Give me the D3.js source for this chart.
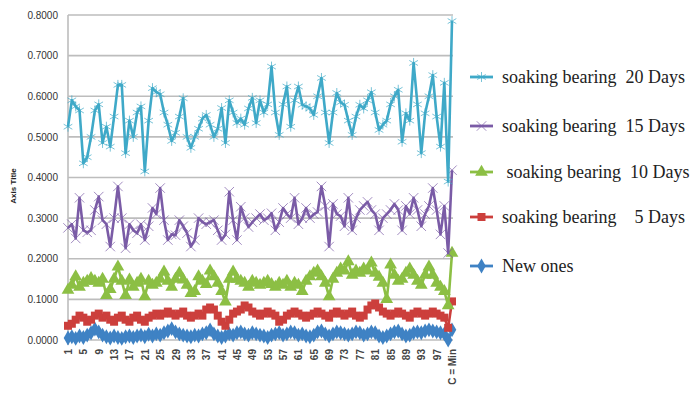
<!DOCTYPE html>
<html><head><meta charset="utf-8">
<script src="https://cdn.jsdelivr.net/npm/d3@7"></script>
<style>body{margin:0;background:#fff}svg{display:block}</style>
</head><body><svg id="c" width="691" height="398"></svg>
<script>
const categories = d3.range(1, 101).map(String).concat(["C = Min"]);
const seriesNames = ["soaking bearing  20 Days", "soaking bearing  15 Days", " soaking bearing  10 Days", "soaking bearing    5 Days", "New ones"];
const yTicks = [0, 0.1, 0.2, 0.3, 0.4, 0.5, 0.6, 0.7, 0.8];
const yTitle = "Axis Title";

const days20 = [0.525,0.59,0.575,0.565,0.435,0.45,0.5,0.565,0.58,0.485,0.525,0.476,0.55,0.628,0.628,0.46,0.54,0.50,0.56,0.575,
0.415,0.54,0.62,0.61,0.605,0.56,0.53,0.49,0.51,0.55,0.595,0.50,0.473,0.50,0.52,0.545,0.554,0.53,0.50,0.52,
0.571,0.485,0.59,0.56,0.534,0.545,0.53,0.57,0.596,0.534,0.59,0.56,0.58,0.673,0.56,0.505,0.58,0.624,0.525,0.59,
0.624,0.579,0.575,0.57,0.554,0.60,0.645,0.56,0.485,0.56,0.608,0.585,0.579,0.54,0.505,0.55,0.579,0.57,0.59,0.61,
0.56,0.517,0.53,0.54,0.58,0.60,0.616,0.488,0.558,0.54,0.682,0.58,0.46,0.558,0.60,0.652,0.55,0.476,0.633,0.39,0.785];
const days15 = [0.276,0.285,0.25,0.35,0.27,0.265,0.27,0.32,0.353,0.295,0.285,0.23,0.30,0.378,0.30,0.226,0.285,0.27,0.263,0.285,
0.246,0.28,0.325,0.31,0.374,0.295,0.246,0.26,0.258,0.295,0.28,0.263,0.23,0.246,0.30,0.29,0.285,0.29,0.295,0.27,
0.246,0.26,0.365,0.295,0.246,0.328,0.30,0.278,0.29,0.30,0.31,0.295,0.30,0.312,0.27,0.29,0.325,0.31,0.30,0.35,
0.285,0.30,0.325,0.30,0.31,0.315,0.378,0.33,0.23,0.335,0.31,0.305,0.28,0.35,0.27,0.30,0.32,0.33,0.34,0.32,
0.31,0.27,0.30,0.31,0.32,0.335,0.32,0.27,0.33,0.31,0.35,0.32,0.28,0.31,0.33,0.374,0.32,0.26,0.33,0.214,0.418];
const days10 = [0.123,0.135,0.156,0.13,0.14,0.145,0.152,0.145,0.14,0.15,0.11,0.125,0.15,0.18,0.145,0.11,0.148,0.13,0.14,0.15,
0.107,0.145,0.135,0.14,0.15,0.168,0.145,0.13,0.15,0.165,0.148,0.135,0.115,0.12,0.156,0.145,0.137,0.17,0.156,0.14,
0.12,0.094,0.15,0.168,0.15,0.145,0.14,0.13,0.145,0.14,0.135,0.14,0.145,0.137,0.13,0.14,0.135,0.145,0.13,0.14,
0.135,0.12,0.145,0.156,0.165,0.17,0.156,0.14,0.107,0.15,0.165,0.175,0.17,0.193,0.16,0.17,0.165,0.175,0.17,0.19,
0.165,0.155,0.14,0.10,0.185,0.16,0.145,0.15,0.165,0.175,0.16,0.145,0.135,0.16,0.18,0.16,0.14,0.13,0.12,0.085,0.214];
const days5 = [0.035,0.04,0.05,0.06,0.055,0.045,0.05,0.06,0.065,0.055,0.06,0.05,0.045,0.055,0.06,0.05,0.045,0.055,0.06,0.05,
0.045,0.055,0.06,0.065,0.06,0.065,0.07,0.065,0.06,0.065,0.07,0.06,0.055,0.06,0.065,0.06,0.075,0.08,0.075,0.06,
0.045,0.035,0.05,0.065,0.07,0.075,0.085,0.08,0.07,0.065,0.06,0.065,0.07,0.065,0.06,0.045,0.05,0.06,0.065,0.07,
0.065,0.06,0.055,0.06,0.065,0.07,0.065,0.06,0.055,0.065,0.07,0.065,0.06,0.065,0.07,0.06,0.055,0.06,0.075,0.085,
0.09,0.08,0.07,0.065,0.06,0.065,0.07,0.065,0.06,0.055,0.065,0.07,0.065,0.06,0.065,0.07,0.065,0.06,0.055,0.03,0.095];
const newOnes = [0.005,0.008,0.004,0.01,0.006,0.012,0.018,0.027,0.02,0.012,0.008,0.005,0.01,0.006,0.004,0.008,0.01,0.006,0.01,0.012,
0.008,0.014,0.01,0.015,0.012,0.018,0.022,0.028,0.02,0.015,0.012,0.01,0.008,0.012,0.01,0.015,0.018,0.025,0.015,0.01,
0.006,0.01,0.015,0.012,0.018,0.02,0.015,0.012,0.018,0.015,0.012,0.01,0.006,0.012,0.015,0.018,0.012,0.015,0.02,0.018,
0.012,0.015,0.01,0.008,0.012,0.02,0.022,0.015,0.01,0.015,0.02,0.018,0.015,0.012,0.015,0.02,0.018,0.012,0.015,0.02,
0.018,0.01,0.006,0.01,0.015,0.02,0.022,0.015,0.01,0.012,0.018,0.02,0.018,0.022,0.025,0.022,0.02,0.018,0.015,0.0,0.025];

const seriesValues = [days20, days15, days10, days5, newOnes];
const colors = ["#3fa9c8", "#7a5ba6", "#8cbf44", "#cc3f3c", "#3f82c4"];
const symbols = [d3.symbolAsterisk, d3.symbolTimes, d3.symbolTriangle, d3.symbolSquare, d3.symbolDiamond];
const symSize = [70, 60, 70, 64, 64];
const symStroke = [true, true, false, false, false];

const svg = d3.select("#c");
const L = 68, R = 452, T = 15, B = 340;
const x = d3.scalePoint().domain(categories).range([L, R]);
const y = d3.scaleLinear().domain([0, 0.8]).range([B, T]);

svg.append("g").selectAll("line").data(yTicks).join("line")
  .attr("x1", L).attr("x2", R + 1).attr("y1", d => y(d)).attr("y2", d => y(d))
  .attr("stroke", "#bdbdbd").attr("stroke-width", 1.6);
const yAxis = svg.append("g").attr("transform", `translate(${L},0)`)
  .call(d3.axisLeft(y).tickValues(yTicks).tickFormat(d3.format(".4f")).tickSize(0).tickPadding(10));
yAxis.select(".domain").attr("stroke", "#bdbdbd").attr("stroke-width", 1.6).attr("d", `M0,${T}V${B + 5}`);
yAxis.selectAll("text").attr("font-family", "Arial, 'Liberation Sans', sans-serif").attr("font-size", 10).attr("fill", "#333");

const xTickLabels = categories.filter((d, i) => i % 4 === 0);
const xAxis = svg.append("g").attr("transform", `translate(0,${B})`)
  .call(d3.axisBottom(x).tickValues(xTickLabels).tickSize(0).tickPadding(0));
xAxis.select(".domain").remove();
xAxis.selectAll("text")
  .attr("font-family", "Arial, 'Liberation Sans', sans-serif").attr("font-size", 10).attr("font-weight", "bold").attr("fill", "#444")
  .attr("transform", "rotate(-90)").attr("text-anchor", "end").attr("dy", "0.35em").attr("y", 0).attr("x", -9);

svg.append("text").attr("transform", "translate(16,186) rotate(-90)").attr("text-anchor", "middle")
  .attr("font-family", "Arial, 'Liberation Sans', sans-serif").attr("font-size", 8).attr("font-weight", "bold").attr("fill", "#222")
  .text(yTitle);

const line = d3.line().x((d, i) => x(categories[i])).y(d => y(d));
function drawMarker(g, k, cx, cy) {
  const p = g.append("path").attr("d", d3.symbol().type(symbols[k]).size(symSize[k])()).attr("transform", `translate(${cx},${cy})`);
  if (symStroke[k]) p.attr("fill", "none").attr("stroke", colors[k]).attr("stroke-width", 1).attr("opacity", 0.7);
  else p.attr("fill", colors[k]);
}
for (let k = seriesValues.length - 1; k >= 0; k--) {
  const g = svg.append("g");
  g.append("path").datum(seriesValues[k]).attr("d", line).attr("fill", "none")
    .attr("stroke", colors[k]).attr("stroke-width", 2.6).attr("stroke-linejoin", "round");
  seriesValues[k].forEach((v, i) => drawMarker(g, k, x(categories[i]), y(v)));
}

const legY = [77, 126, 172, 217, 266];
seriesNames.forEach((name, k) => {
  const g = svg.append("g").attr("transform", `translate(0,${legY[k]})`);
  g.append("line").attr("x1", 470).attr("x2", 493).attr("stroke", colors[k]).attr("stroke-width", 2.8);
  drawMarker(g, k, 481.5, 0);
  g.append("text").attr("x", 502).attr("y", 0).attr("dy", "0.32em").attr("xml:space", "preserve")
    .style("white-space", "pre")
    .attr("font-family", "'Liberation Serif', 'Times New Roman', serif").attr("font-size", 18).attr("fill", "#222")
    .text(name);
});
</script></body></html>
